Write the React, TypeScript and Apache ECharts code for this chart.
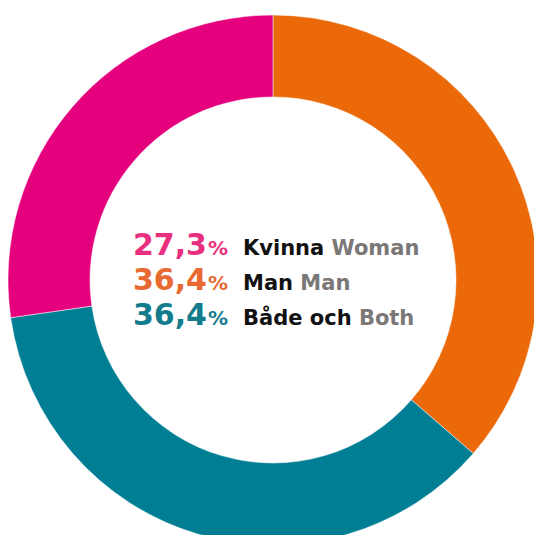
import React, { useEffect, useRef } from "react";
import * as echarts from "echarts";

// Slices in drawing order (clockwise from 12 o'clock)
const sliceNames = ["Man", "Både och", "Kvinna"];
const sliceValues = [36.4, 36.4, 27.3];
const sliceColors = ["#EB6909", "#007E93", "#E5007D"];

// Centre legend rows (top to bottom)
const rowValues = ["27,3", "36,4", "36,4"];
const rowSwedish = ["Kvinna", "Man", "Både och"];
const rowEnglish = ["Woman", "Man", "Both"];
const rowColors = ["#E8307F", "#E86A32", "#137C8C"];

export default function App() {
  const ref = useRef<HTMLDivElement>(null);
  useEffect(() => {
    if (!ref.current) return;
    const chart = echarts.init(ref.current, null, { renderer: "svg" });
    const LH = 35;
    const numFont = "bold 30px 'DejaVu Sans', sans-serif";
    const pctFont = "bold 20px 'DejaVu Sans', sans-serif";
    const lblFont = "bold 21px 'DejaVu Sans', sans-serif";

    const numRich: any = {};
    const pctRich: any = {};
    rowColors.forEach((c, i) => {
      numRich["n" + i] = { fill: c, font: numFont, lineHeight: LH };
      pctRich["p" + i] = { fill: c, font: pctFont, lineHeight: LH };
    });
    const numText = rowValues.map((v, i) => `{n${i}|${v}}`).join("\n");
    const pctText = rowValues.map((_, i) => `{p${i}|%}`).join("\n");
    const lblText = rowSwedish.map((s, i) => `{a|${s}} {b|${rowEnglish[i]}}`).join("\n");

    const graphics: any[] = [
      {
        type: "text",
        x: 207,
        y: 227,
        style: {
          text: numText,
          rich: numRich,
          font: numFont,
          lineHeight: LH,
          textAlign: "right",
          textVerticalAlign: "top",
        },
      },
      {
        type: "text",
        x: 208,
        y: 230.5,
        style: {
          text: pctText,
          rich: pctRich,
          font: pctFont,
          lineHeight: LH,
          textAlign: "left",
          textVerticalAlign: "top",
        },
      },
      {
        type: "text",
        x: 243,
        y: 230.2,
        style: {
          text: lblText,
          font: lblFont,
          lineHeight: LH,
          textAlign: "left",
          textVerticalAlign: "top",
          rich: {
            a: { fill: "#111111", font: lblFont, lineHeight: LH },
            b: { fill: "#7A7776", font: lblFont, lineHeight: LH },
          },
        },
      },
    ];

    chart.setOption({
      animation: false,
      series: [
        {
          type: "pie",
          center: [273, 280],
          radius: [183, 265],
          startAngle: 90,
          clockwise: true,
          label: { show: false },
          labelLine: { show: false },
          emphasis: { disabled: true },
          itemStyle: { borderColor: "#ffffff", borderWidth: 0.5 },
          data: sliceNames.map((n, i) => ({
            name: n,
            value: sliceValues[i],
            itemStyle: { color: sliceColors[i] },
          })),
        },
      ],
      graphic: graphics,
    });
    return () => chart.dispose();
  }, []);
  return (
    <div
      ref={ref}
      style={{ position: "absolute", left: 0, top: 0, width: 534, height: 535, background: "#fff" }}
    />
  );
}
